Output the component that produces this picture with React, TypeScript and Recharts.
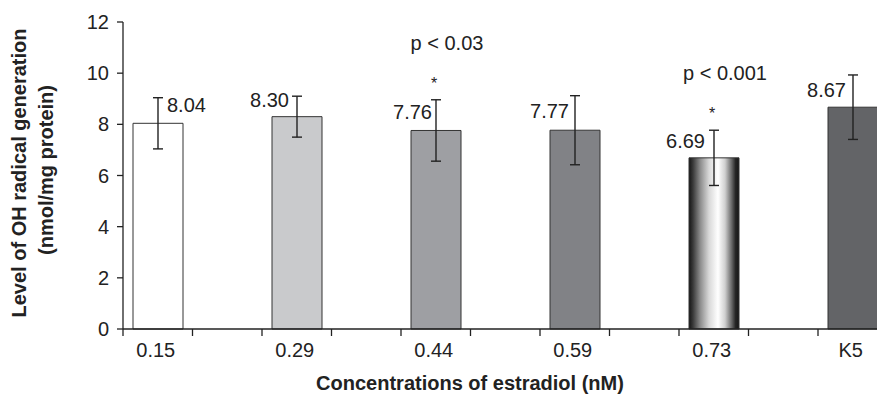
import React from 'react';
import { BarChart, Bar, XAxis, YAxis, ErrorBar, LabelList, Cell } from 'recharts';

const concentrations = ['0.15', '0.29', '0.44', '0.59', '0.73', 'K5'];
const ohLevels = [8.04, 8.3, 7.76, 7.77, 6.69, 8.67];
const sdErrors = [1.0, 0.8, 1.2, 1.35, 1.08, 1.26];
const significance = ['', '', 'p < 0.03', '', 'p < 0.001', ''];
const yTicks = [0, 2, 4, 6, 8, 10, 12];

const fills = ['#ffffff', '#c9cacc', '#9e9fa3', '#818286', 'url(#cylinder)', '#636467'];

// every concentration takes two slots on the axis, the second one stays empty
const rows = concentrations.flatMap((c, i) => [
  { slot: `c${i}`, label: c, value: ohLevels[i], err: sdErrors[i] },
  { slot: `gap${i}`, label: '', value: null, err: null },
]);
const slotLabel: Record<string, string> = {};
rows.forEach((r) => (slotLabel[r.slot] = r.label));

const FONT = '"Liberation Sans", Arial, Helvetica, sans-serif';
const INK = '#222';

const W = 1000;
const H = 398;
const MARGIN = { top: 22, right: 43, left: 0, bottom: 0 };
const X_AXIS_H = 69;
const AXIS_Y = H - MARGIN.bottom - X_AXIS_H;

// hand placement of the value labels in the original figure: [dx from bar centre, dy from error top]
const valueNudge: Array<[number, number]> = [
  [9, 7],
  [-8, 4],
  [-4, 12],
  [-6, 15],
  [-9, 11],
  [-7, 15],
];

const SlotTick = (props: any) => {
  const { x, payload } = props;
  const half = payload.offset || 34.75;
  const text = slotLabel[payload.value];
  return (
    <g>
      <line x1={x - half} x2={x - half} y1={AXIS_Y} y2={AXIS_Y + 7} stroke={INK} strokeWidth={1.3} />
      {text && (
        <text x={x - 2} y={AXIS_Y + 28} textAnchor="middle" fontSize={20} fontFamily={FONT} fill={INK}>
          {text}
        </text>
      )}
    </g>
  );
};

// LabelList only sees the drawn bars, so index runs over the concentrations
const BarNotes = (props: any) => {
  const { x, y, width, height, index, value } = props;
  if (value == null || index == null || index >= concentrations.length) return null;
  const cx = x + width / 2;
  const perUnit = height / value;
  const errTop = y - sdErrors[index] * perUnit;
  const [dx, dy] = valueNudge[index];
  const note = significance[index];
  return (
    <g fontFamily={FONT} fill={INK}>
      <text x={cx + dx} y={errTop + dy + 7} textAnchor={dx > 0 ? 'start' : 'end'} fontSize={20}>
        {Number(value).toFixed(2)}
      </text>
      {note && (
        <>
          <text x={cx - 2} y={errTop - 20 + 9} textAnchor="middle" fontSize={16}>
            *
          </text>
          <text x={cx + 11} y={errTop - 57 + 7} textAnchor="middle" fontSize={20}>
            {note}
          </text>
        </>
      )}
    </g>
  );
};

export default function App() {
  return (
    <div style={{ position: 'fixed', left: 0, top: 0, width: 877, height: H, overflow: 'hidden', background: '#fff' }}>
      <BarChart width={W} height={H} data={rows} margin={MARGIN} barCategoryGap={0}>
        <defs>
          <linearGradient id="cylinder" x1="0" y1="0" x2="1" y2="0">
            <stop offset="0" stopColor="#151515" />
            <stop offset="0.08" stopColor="#3a3a3a" />
            <stop offset="0.22" stopColor="#8a8a8a" />
            <stop offset="0.4" stopColor="#d8d8d8" />
            <stop offset="0.58" stopColor="#ffffff" />
            <stop offset="0.72" stopColor="#d0d0d0" />
            <stop offset="0.85" stopColor="#6a6a6a" />
            <stop offset="0.93" stopColor="#262626" />
            <stop offset="1" stopColor="#151515" />
          </linearGradient>
        </defs>
        <XAxis
          dataKey="slot"
          height={X_AXIS_H}
          interval={0}
          tickLine={false}
          axisLine={{ stroke: INK, strokeWidth: 1.3 }}
          tick={<SlotTick />}
        />
        <YAxis
          width={123}
          domain={[0, 12]}
          ticks={yTicks}
          tickSize={6}
          tickMargin={8}
          axisLine={{ stroke: INK, strokeWidth: 1.3 }}
          tickLine={{ stroke: INK, strokeWidth: 1.3 }}
          tick={{ fontSize: 20, fontFamily: FONT, fill: INK }}
        />
        <Bar dataKey="value" barSize={50} stroke="#333" strokeWidth={1} isAnimationActive={false}>
          {rows.map((r, i) => (
            <Cell key={r.slot} fill={r.value == null ? 'none' : fills[i / 2]} />
          ))}
          <ErrorBar dataKey="err" width={5} stroke={INK} strokeWidth={1.4} direction="y" />
          <LabelList dataKey="value" content={<BarNotes />} />
        </Bar>
        <text x={470} y={390} textAnchor="middle" fontSize={20} fontWeight="bold" fontFamily={FONT} fill={INK}>
          Concentrations of estradiol (nM)
        </text>
        <text
          transform="translate(26,173) rotate(-90)"
          textAnchor="middle"
          fontSize={20}
          fontWeight="bold"
          fontFamily={FONT}
          fill={INK}
        >
          Level of OH radical generation
        </text>
        <text
          transform="translate(53,170) rotate(-90)"
          textAnchor="middle"
          fontSize={20}
          fontWeight="bold"
          fontFamily={FONT}
          fill={INK}
        >
          (nmol/mg protein)
        </text>
      </BarChart>
    </div>
  );
}
